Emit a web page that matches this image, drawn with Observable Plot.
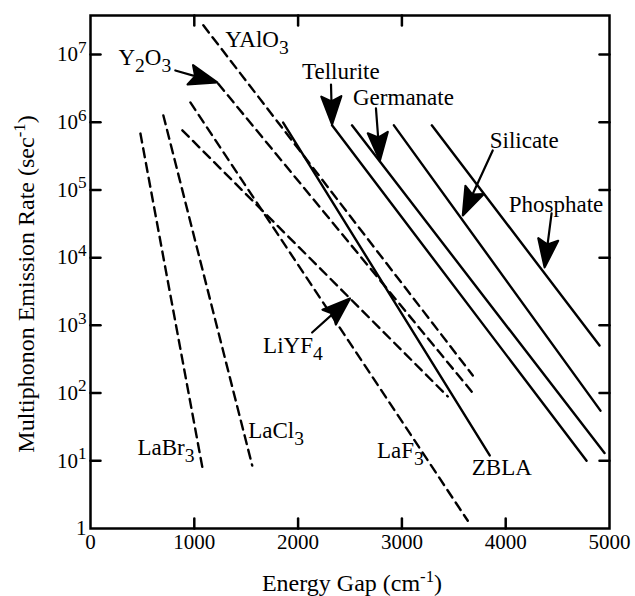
<!DOCTYPE html>
<html><head><meta charset="utf-8">
<script src="https://cdn.jsdelivr.net/npm/d3@7"></script>
<script src="https://cdn.jsdelivr.net/npm/@observablehq/plot@0.6"></script>
<style>
body{margin:0;background:#fff}
#chart svg{font-family:"Liberation Serif","Times New Roman",serif;background:#fff}
</style>
</head><body><div id="chart"></div>
<script>
// ---- data (energy gap in cm^-1, multiphonon emission rate in s^-1) ----
const crystalNames = ["LaBr3", "LaCl3", "LiYF4", "LaF3", "Y2O3", "YAlO3"];
const crystalGapStart = [481, 702, 885, 962, 1231, 1087];
const crystalRateStart = [6.8e5, 1.26e6, 7.6e5, 1.96e6, 3.7e6, 2.7e7];
const crystalGapEnd = [1087, 1558, 3442, 3635, 3673, 3683];
const crystalRateEnd = [6.7, 8.5, 89, 1.3, 105, 182];

const glassNames = ["ZBLA", "Tellurite", "Germanate", "Silicate", "Phosphate"];
const glassGapStart = [1856, 2327, 2519, 2923, 3288];
const glassRateStart = [9.9e5, 9.0e5, 9.0e5, 9.0e5, 9.0e5];
const glassGapEnd = [3846, 4779, 4952, 4913, 4904];
const glassRateEnd = [12, 10, 13, 55, 505];

// annotation labels (data coordinates of left edge / text middle)
const labelText = ["YAlO_{3}", "Y_{2}O_{3}", "Tellurite", "Germanate", "Silicate", "Phosphate", "LiYF_{4}", "LaBr_{3}", "LaCl_{3}", "LaF_{3}", "ZBLA"];
const labelGap = [1298, 269, 2038, 2529, 3846, 4029, 1663, 452, 1519, 2760, 3673];
const labelRate = [1.64e7, 8.9e6, 5.5e6, 2.28e6, 5.3e5, 6.1e4, 496, 15.5, 28, 14, 7.8];

// pointer arrows (tail -> tip)
const arrowFor = ["Y2O3", "Tellurite", "Germanate", "Silicate", "Phosphate", "LiYF4"];
const arrowTailGap = [817, 2317, 2750, 3875, 4442, 2135];
const arrowTailRate = [5.81e6, 3.6e6, 1.6e6, 3.83e5, 4.5e4, 785];
const arrowTipGap = [1221, 2327, 2788, 3587, 4375, 2500];
const arrowTipRate = [3.87e6, 9.3e5, 2.72e5, 4.2e4, 7.2e3, 2.5e3];

const xTickValues = [0, 1000, 2000, 3000, 4000, 5000];
const xTicksBottom = [1000, 2000, 3000, 4000];
const xTicksTop = [1000, 2000, 3000];
const yTickValues = [1, 10, 100, 1e3, 1e4, 1e5, 1e6, 1e7];
const yTicksInner = [10, 100, 1e3, 1e4, 1e5, 1e6, 1e7];

const xTitle = "Energy Gap (cm^{-1})";
const yTitle = "Multiphonon Emission Rate (sec^{-1})";

// ---- build tables ----
const crystalRows = crystalNames.flatMap((n, i) => [
  {name: n, gap: crystalGapStart[i], rate: crystalRateStart[i]},
  {name: n, gap: crystalGapEnd[i], rate: crystalRateEnd[i]}
]);
const glassRows = glassNames.flatMap((n, i) => [
  {name: n, gap: glassGapStart[i], rate: glassRateStart[i]},
  {name: n, gap: glassGapEnd[i], rate: glassRateEnd[i]}
]);
const labelRows = labelText.map((t, i) => ({t, gap: labelGap[i], rate: labelRate[i]}));

const W = 635, H = 596;
const layout = {width: W, height: H, marginLeft: 90, marginRight: 26, marginTop: 15, marginBottom: 68};
const xOpt = {domain: [0, 5000]};
const yOpt = {type: "log", domain: [1, 3.77e7]};

// first pass to obtain the scales for arrow directions
const base = Plot.plot({...layout, x: xOpt, y: yOpt, marks: [Plot.frame()]});
const sx = base.scale("x"), sy = base.scale("y");
function applyScale(s, v) {
  if (typeof s.apply === "function") return s.apply(v);
  const [d0, d1] = s.domain, [r0, r1] = s.range;
  if (s.type === "log") return r0 + (Math.log(v) - Math.log(d0)) / (Math.log(d1) - Math.log(d0)) * (r1 - r0);
  return r0 + (v - d0) / (d1 - d0) * (r1 - r0);
}
const arrowRows = arrowFor.map((n, i) => {
  const x0 = applyScale(sx, arrowTailGap[i]), y0 = applyScale(sy, arrowTailRate[i]);
  const x1 = applyScale(sx, arrowTipGap[i]), y1 = applyScale(sy, arrowTipRate[i]);
  const dx = x1 - x0, dy = y1 - y0;
  return {n, gap: arrowTipGap[i], rate: arrowTipRate[i], len: Math.hypot(dx, dy), angle: Math.atan2(dx, -dy) * 180 / Math.PI};
});

const arrowShape = {
  draw(ctx, l) {
    const hl = 28, hw = 10;
    ctx.moveTo(0, 0); ctx.lineTo(0, -l + hl * 0.6);
    ctx.moveTo(0, -l); ctx.lineTo(-hw, -l + hl); ctx.lineTo(0, -l + hl * 0.82); ctx.lineTo(hw, -l + hl); ctx.closePath();
  }
};
const tickShape = {draw(ctx, l) { ctx.moveTo(0, 0); ctx.lineTo(0, -l); }};

const plot = Plot.plot({
  ...layout,
  style: {fontFamily: "'Liberation Serif','Times New Roman',serif", fontSize: "21px", background: "#fff", color: "#000"},
  x: xOpt,
  y: yOpt,
  length: {type: "identity"},
  marks: [
    Plot.line(crystalRows, {x: "gap", y: "rate", z: "name", stroke: "black", strokeWidth: 2.4, strokeDasharray: "9,6"}),
    Plot.line(glassRows, {x: "gap", y: "rate", z: "name", stroke: "black", strokeWidth: 2.4}),
    Plot.vector(arrowRows, {x: "gap", y: "rate", length: "len", rotate: "angle", anchor: "end", shape: arrowShape, stroke: "black", fill: "black", strokeWidth: 2.2}),
    Plot.text(labelRows, {x: "gap", y: "rate", text: "t", textAnchor: "start", lineAnchor: "middle", fontSize: 23, fill: "black"}),
    // inward ticks on all four sides
    Plot.vector(xTicksBottom, {x: d => d, frameAnchor: "bottom", length: 10, rotate: 0, anchor: "start", shape: tickShape, stroke: "black", strokeWidth: 2.5}),
    Plot.vector(xTicksTop, {x: d => d, frameAnchor: "top", length: 10, rotate: 180, anchor: "start", shape: tickShape, stroke: "black", strokeWidth: 2.5}),
    Plot.vector(yTicksInner, {y: d => d, frameAnchor: "left", length: 10, rotate: 90, anchor: "start", shape: tickShape, stroke: "black", strokeWidth: 2.5}),
    Plot.vector(yTicksInner, {y: d => d, frameAnchor: "right", length: 10, rotate: 270, anchor: "start", shape: tickShape, stroke: "black", strokeWidth: 2.5}),
    Plot.axisX(xTickValues, {tickSize: 0, tickPadding: 6, tickFormat: d => String(d), fontSize: 21, label: null}),
    Plot.axisY(yTickValues, {tickSize: 0, tickPadding: 4, tickFormat: d => d === 1 ? "1" : `10^{${Math.round(Math.log10(d))}}`, fontSize: 21, label: null}),
    Plot.frame({stroke: "black", strokeWidth: 2.5}),
    Plot.text([xTitle], {text: d => d, frameAnchor: "bottom", textAnchor: "middle", dy: 55, dx: 2, fontSize: 24, lineAnchor: "middle", fill: "black"}),
    Plot.text([yTitle], {text: d => d, frameAnchor: "left", textAnchor: "middle", rotate: -90, dx: -64, dy: 12, fontSize: 24, lineAnchor: "middle", fill: "black"})
  ]
});
document.getElementById("chart").appendChild(plot);

// rich text: _{..} subscripts, ^{..} superscripts
const NS = "http://www.w3.org/2000/svg";
d3.select(plot).selectAll("text").each(function() {
  const el = this;
  const s = el.textContent;
  if (!/[_^]\{/.test(s)) return;
  const fs = parseFloat(getComputedStyle(el).fontSize) || 21;
  el.textContent = "";
  let shift = 0;
  const add = (txt, off, scale) => {
    if (!txt) return;
    const t = document.createElementNS(NS, "tspan");
    t.textContent = txt;
    const dy = off - shift;
    if (dy) t.setAttribute("dy", dy.toFixed(2));
    if (scale !== 1) t.setAttribute("font-size", (fs * scale).toFixed(1));
    shift = off;
    el.appendChild(t);
  };
  const re = /([_^])\{([^}]*)\}/g;
  let last = 0, m;
  while ((m = re.exec(s))) {
    add(s.slice(last, m.index), 0, 1);
    if (m[1] === "_") add(m[2], fs * 0.3, 0.85);
    else add(m[2], -fs * 0.4, m[2].startsWith("-") ? 0.7 : 0.82);
    last = re.lastIndex;
  }
  add(s.slice(last), 0, 1);
});
</script>
</body></html>
